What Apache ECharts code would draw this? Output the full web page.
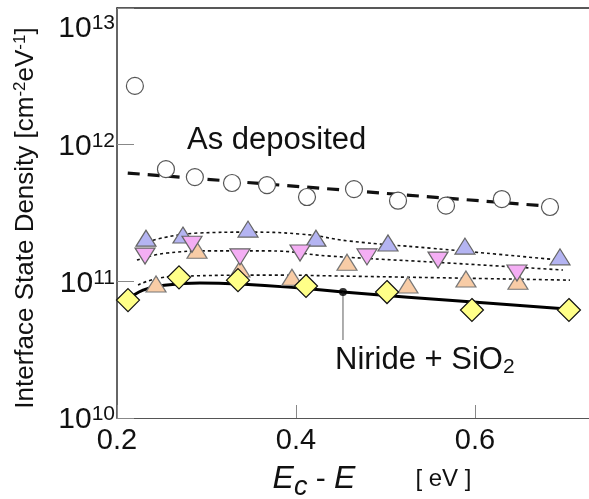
<!DOCTYPE html>
<html><head><meta charset="utf-8">
<script src="https://cdn.jsdelivr.net/npm/echarts@6/dist/echarts.min.js"></script>
<style>html,body{margin:0;padding:0;background:#fff}#c{width:589px;height:499px}</style>
</head><body><div id="c"></div>
<script>
// ---- data (E_c - E in eV, density in cm^-2 eV^-1) ----
const xTicks = [0.2, 0.4, 0.6];
const yTicks = [1e10, 1e11, 1e12, 1e13];

const asDepX = [0.220, 0.2547, 0.287, 0.3285, 0.3676, 0.4123, 0.4648, 0.514, 0.5676, 0.630, 0.6838];
const asDepY = [2.69e12, 6.62e11, 5.79e11, 5.24e11, 5.06e11, 4.14e11, 4.73e11, 3.89e11, 3.58e11, 4.0e11, 3.50e11];
const asDepFitX = [0.212, 0.693];
const asDepFitY = [6.2e11, 3.5e11];

const blueX = [0.2324, 0.2737, 0.3464, 0.4223, 0.5028, 0.5888, 0.6950];
const blueY = [2.07e11, 2.18e11, 2.41e11, 2.07e11, 1.91e11, 1.81e11, 1.51e11];
const blueFitX = [0.2402, 0.2927, 0.3464, 0.4045, 0.4603, 0.5497, 0.6246, 0.6950];
const blueFitY = [2.0e11, 2.26e11, 2.29e11, 2.22e11, 1.97e11, 1.75e11, 1.58e11, 1.43e11];

const pinkX = [0.2313, 0.2838, 0.3374, 0.4045, 0.4793, 0.5587, 0.6469];
const pinkY = [1.53e11, 1.87e11, 1.51e11, 1.61e11, 1.51e11, 1.43e11, 1.15e11];
const pinkFitX = [0.2223, 0.2559, 0.3039, 0.3676, 0.438, 0.572, 0.6983];
const pinkFitY = [1.43e11, 1.61e11, 1.67e11, 1.67e11, 1.53e11, 1.36e11, 1.21e11];

const peachX = [0.2436, 0.2894, 0.3374, 0.3955, 0.4570, 0.5251, 0.5899, 0.6480];
const peachY = [9.55e10, 1.69e11, 1.23e11, 1.07e11, 1.38e11, 9.4e10, 1.04e11, 1.0e11];
const peachFitX = [0.2235, 0.248, 0.2704, 0.3676, 0.4603, 0.7061];
const peachFitY = [9.4e10, 1.06e11, 1.09e11, 1.11e11, 1.09e11, 1.02e11];

const nitX = [0.2123, 0.2693, 0.3352, 0.4112, 0.5017, 0.5966, 0.705];
const nitY = [7.29e10, 1.07e11, 1.02e11, 9.24e10, 8.35e10, 6.17e10, 6.17e10];
const nitFitX = [0.2123, 0.2291, 0.2559, 0.2927, 0.3374, 0.4045, 0.4525, 0.5978, 0.7028];
const nitFitY = [7.29e10, 8.63e10, 9.4e10, 9.72e10, 9.55e10, 8.93e10, 8.35e10, 7.06e10, 6.27e10];

const annotDot = [0.4525, 8.35e10];
const labelAsDep = 'As deposited';
const labelNit = 'Niride + SiO';

const zip = (a, b) => a.map((v, i) => [v, b[i]]);
const FONT = 'Liberation Sans, Arial, sans-serif';

const chart = echarts.init(document.getElementById('c'));
const markerSeries = (name, xs, ys, symbol, size, fill, stroke, rot) => ({
  name, type: 'scatter', data: zip(xs, ys), symbol, symbolSize: size, symbolRotate: rot || 0, z: 5,
  itemStyle: { color: fill, borderColor: stroke, borderWidth: 1.2, opacity: 1 }
});
const dotted = (xs, ys) => ({
  type: 'line', data: zip(xs, ys), smooth: true, symbol: 'none', z: 3,
  lineStyle: { color: '#111', width: 1.6, type: [3, 3] }
});
const expOf = v => Math.round(Math.log10(v));
const isTick = v => yTicks.some(t => Math.abs(Math.log10(t) - Math.log10(v)) < 1e-6);

chart.setOption({
  animation: false,
  grid: { left: 117, right: 0, top: 8, bottom: 81, containLabel: false, outerBoundsMode: 'none' },
  xAxis: [{
    type: 'value', min: 0.2, max: 0.7274, interval: 0.2,
    axisLine: { lineStyle: { color: '#555', width: 1.2 } },
    axisTick: { inside: true, length: 13, lineStyle: { color: '#888', width: 1 } },
    axisLabel: { fontSize: 29, color: '#111', fontFamily: FONT, margin: 8, showMaxLabel: false,
      formatter: v => xTicks.some(t => Math.abs(t - v) < 1e-9) ? v.toFixed(1) : '' },
    splitLine: { show: false },
    name: '{i|E}{sub|c}{n| - }{i|E}{gap|}{u|[ eV ]}', nameLocation: 'middle', nameGap: 40,
    nameTextStyle: {
      padding: [0, 0, 0, 38],
      rich: {
        i: { fontSize: 32, fontStyle: 'italic', color: '#111', fontFamily: FONT },
        sub: { fontSize: 27, fontStyle: 'italic', color: '#111', fontFamily: FONT, padding: [16, 0, 0, 0] },
        n: { fontSize: 30, color: '#111', fontFamily: FONT },
        gap: { width: 60 },
        u: { fontSize: 24, color: '#111', fontFamily: FONT }
      }
    }
  }, {
    type: 'value', position: 'top', min: 0.2, max: 0.7274,
    axisLine: { show: true, lineStyle: { color: '#222', width: 1.5 } },
    axisTick: { show: false }, axisLabel: { show: false }, splitLine: { show: false }
  }],
  yAxis: [{
    type: 'log', logBase: 10, min: 1e10, max: 1e13,
    axisLine: { show: true, lineStyle: { color: '#333', width: 1.5 } },
    axisTick: { inside: true, length: 17, lineStyle: { color: '#888', width: 1 } },
    splitLine: { show: false },
    axisLabel: {
      margin: 2, color: '#111', fontFamily: FONT,
      formatter: v => (isTick(v) && expOf(v) < 13) ? '{b|10}{s|' + expOf(v) + '}' : '',
      rich: {
        b: { fontSize: 30, fontFamily: FONT, color: '#111', verticalAlign: 'bottom', lineHeight: 34 },
        s: { fontSize: 21, fontFamily: FONT, color: '#111', verticalAlign: 'bottom', lineHeight: 34, padding: [0, 0, 10, 0] }
      }
    },
    name: 'Interface State Density [cm{sup|-2}eV{sup|-1}]', nameLocation: 'middle', nameGap: 77, nameRotate: 90,
    nameTextStyle: {
      fontSize: 26, color: '#111', fontFamily: FONT, padding: [0, 10, 0, 0],
      rich: { sup: { fontSize: 17, color: '#111', fontFamily: FONT, padding: [0, 0, 11, 0] } }
    }
  }, {
    type: 'log', logBase: 10, min: 1e10, max: 1e13, position: 'left',
    axisLine: { show: false }, axisTick: { show: false }, splitLine: { show: false },
    axisLabel: {
      margin: 2, color: '#111', fontFamily: FONT, verticalAlign: 'top', padding: [2, 0, 0, 0],
      formatter: v => (isTick(v) && expOf(v) === 13) ? '{tb|10}{ts|' + expOf(v) + '}' : '',
      rich: {
        tb: { fontSize: 30, fontFamily: FONT, color: '#111', verticalAlign: 'bottom', lineHeight: 34 },
        ts: { fontSize: 21, fontFamily: FONT, color: '#111', verticalAlign: 'bottom', lineHeight: 34, padding: [0, 0, 10, 0] }
      }
    }
  }],
  series: [
    { type: 'line', data: zip(asDepFitX, asDepFitY), symbol: 'none', z: 3,
      lineStyle: { color: '#111', width: 3.2, type: [12, 8] } },
    dotted(blueFitX, blueFitY),
    dotted(pinkFitX, pinkFitY),
    dotted(peachFitX, peachFitY),
    { type: 'line', data: zip(nitFitX, nitFitY), smooth: true, symbol: 'none', z: 3,
      lineStyle: { color: '#000', width: 3 } },
    markerSeries('as', asDepX, asDepY, 'circle', 17, '#fff', '#555'),
    markerSeries('blue', blueX, blueY, 'triangle', [20, 16], '#b4b4f2', '#666'),
    markerSeries('peach', peachX, peachY, 'triangle', [20, 16], '#f8cca6', '#777'),
    markerSeries('pink', pinkX, pinkY, 'triangle', [20, 16], '#f4aef4', '#666', 180),
    markerSeries('nit', nitX, nitY, 'diamond', [23, 23], '#ffff88', '#111'),
    { type: 'scatter', data: [annotDot], symbol: 'circle', symbolSize: 8, z: 6,
      itemStyle: { color: '#000' } }
  ]
});

const p = chart.convertToPixel({ xAxisIndex: 0, yAxisIndex: 0 }, annotDot);
chart.setOption({
  graphic: [
    { type: 'line', shape: { x1: p[0], y1: p[1], x2: p[0], y2: p[1] + 48 }, style: { stroke: '#777', lineWidth: 1.2 }, z: 4 },
    { type: 'text', left: 187, top: 125, style: { text: labelAsDep, fontSize: 31, fill: '#111', fontFamily: FONT } },
    { type: 'text', left: 335, top: 345, style: {
      text: '{n|' + labelNit + '}{s|2}',
      rich: { n: { fontSize: 31, fill: '#111', fontFamily: FONT }, s: { fontSize: 21, fill: '#111', fontFamily: FONT, padding: [14, 0, 0, 0] } }
    } }
  ]
});
</script></body></html>
